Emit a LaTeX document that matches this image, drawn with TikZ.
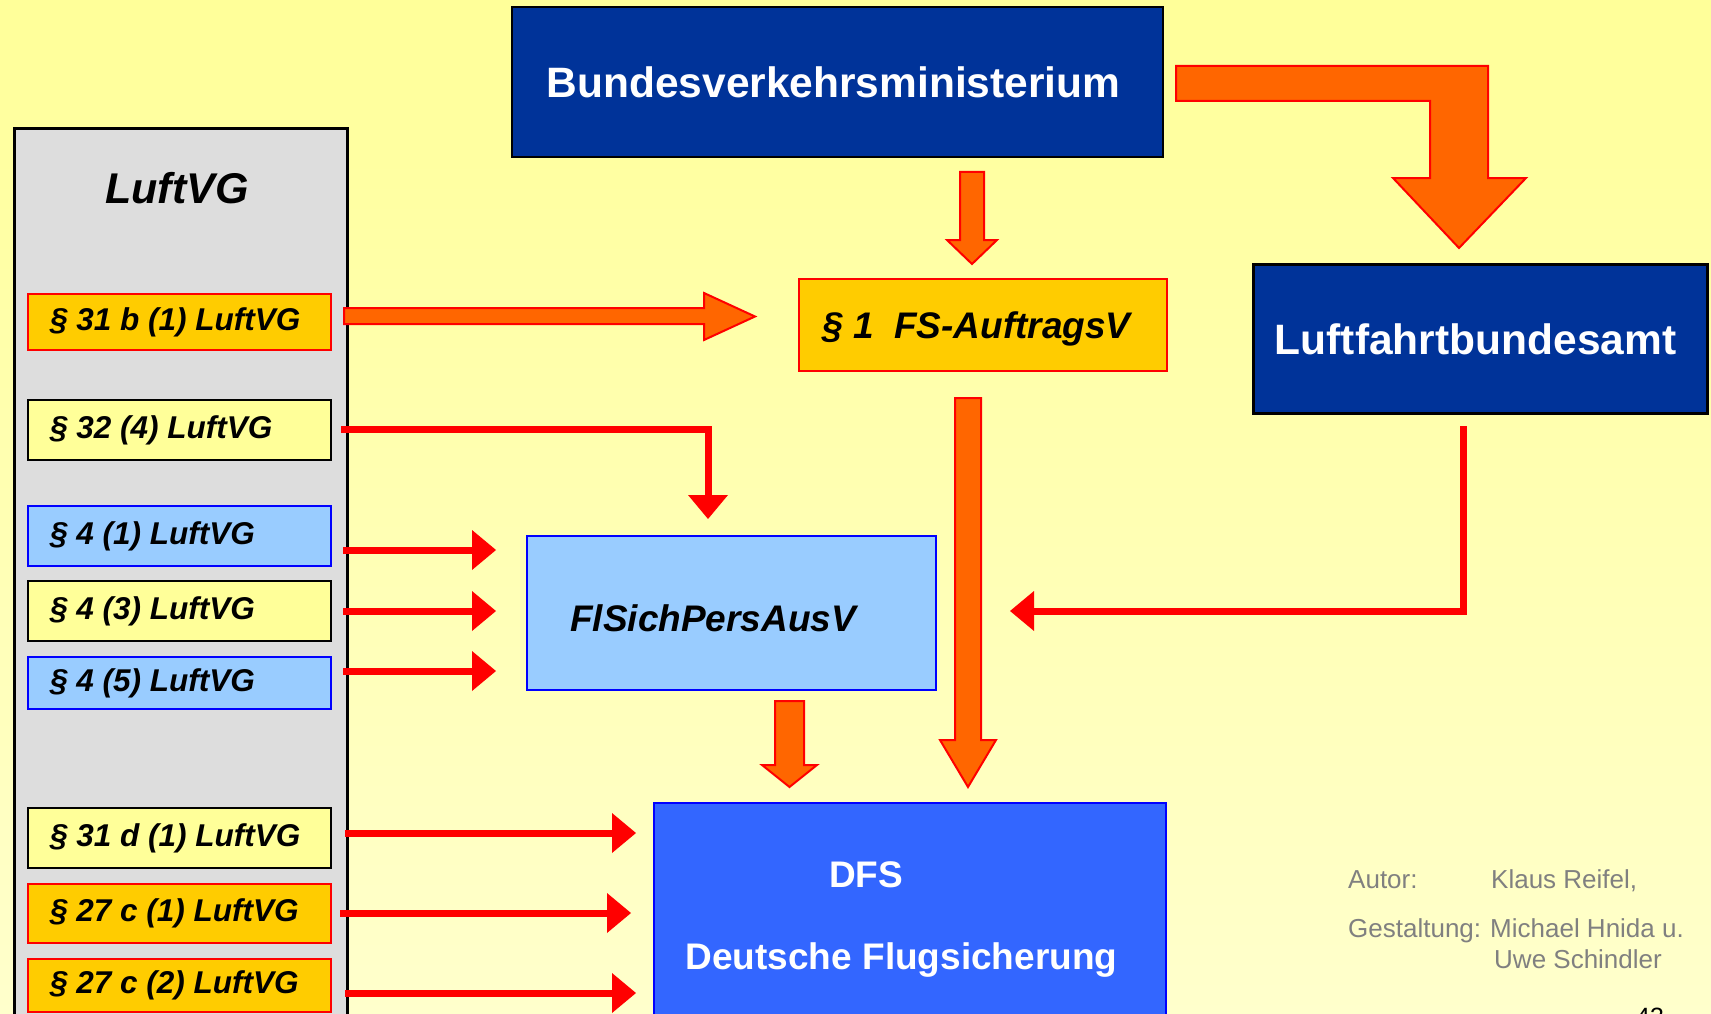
\documentclass[tikz,border=0pt]{standalone}
\usepackage{fontspec}
\setmainfont{Liberation Sans}
\usetikzlibrary{arrows.meta}
\definecolor{bgtop}{RGB}{255,255,153}
\definecolor{bgbot}{RGB}{255,255,204}
\definecolor{navy}{HTML}{003399}
\definecolor{gold}{HTML}{FFCC00}
\definecolor{lyellow}{HTML}{FFFF99}
\definecolor{lblue}{HTML}{99CCFF}
\definecolor{dfsblue}{HTML}{3366FF}
\definecolor{orng}{HTML}{FF6600}
\definecolor{redline}{HTML}{FF0000}
\definecolor{blueline}{HTML}{0000FF}
\definecolor{graybox}{HTML}{DDDDDD}
\definecolor{authgray}{RGB}{128,128,128}
\newcommand\fsz[1]{\fontsize{#1pt}{#1pt}\selectfont}
\newcommand\downblock[6]{% center x, top, head start, tip, shaft half, head half
  \filldraw[blockarr] (#1-#5,#2) -- (#1+#5,#2) -- (#1+#5,#3) -- (#1+#6,#3) -- (#1,#4) -- (#1-#6,#3) -- (#1-#5,#3) -- cycle;}
\newcommand\lawbox[5]{% name, style, top, height, text
  \node[#2, minimum height=#4pt] (#1) at (27,#3) {};
  \node[lawtxt] (#1t) at ([xshift=23pt]#1.west) {#5};}
\begin{document}
\begin{tikzpicture}[x=1pt,y=-1pt,
  lawframe/.style={draw, line width=2pt, anchor=north west, minimum width=303pt, inner sep=0pt},
  lawtxt/.style={anchor=west, inner sep=0pt, font=\fsz{31.5}\bfseries\itshape},
  goldbox/.style={lawframe, fill=gold, draw=redline},
  lybox/.style={lawframe, fill=lyellow, draw=black},
  lbbox/.style={lawframe, fill=lblue, draw=blueline},
  mainbox/.style={anchor=north west, inner sep=0pt},
  whitetxt/.style={text=white, font=\fsz{42.5}\bfseries, inner sep=0pt},
  thinarr/.style={draw=redline, line width=7pt, line join=miter,
    -{Triangle[length=24pt,width=40pt,line width=0pt]}},
  blockarr/.style={fill=orng, draw=redline, line width=2pt, line join=miter},
  authtxt/.style={text=authgray, font=\fsz{26}, anchor=base west, inner sep=0pt}]
\useasboundingbox (0,0) rectangle (1711,1014);
\shade[top color=bgtop, bottom color=bgbot] (0,0) rectangle (1711,1014);

% left legal column
\node[draw=black, line width=3pt, fill=graybox, mainbox, minimum width=333pt, minimum height=920pt] (lvg) at (12.5,127.5) {};
\node[font=\fsz{43}\bfseries\itshape, anchor=base, inner sep=0pt] (ttl) at (177,204) {LuftVG};
\lawbox{b31b}{goldbox}{293}{56}{§ 31 b (1) LuftVG}
\lawbox{b32}{lybox}{399}{60}{§ 32 (4) LuftVG}
\lawbox{b41}{lbbox}{505}{60}{§ 4 (1) LuftVG}
\lawbox{b43}{lybox}{580}{60}{§ 4 (3) LuftVG}
\lawbox{b45}{lbbox}{656}{52}{§ 4 (5) LuftVG}
\lawbox{b31d}{lybox}{807}{60}{§ 31 d (1) LuftVG}
\lawbox{b27ca}{goldbox}{883}{59}{§ 27 c (1) LuftVG}
\lawbox{b27cb}{goldbox}{958}{53}{§ 27 c (2) LuftVG}

% main boxes
\node[mainbox, fill=navy, draw=black, line width=2pt, minimum width=651pt, minimum height=150pt] (bvm) at (511,6) {};
\node[whitetxt] at ([xshift=-4pt]bvm.center) {Bundesverkehrsministerium};
\node[mainbox, fill=navy, draw=black, line width=3pt, minimum width=454pt, minimum height=149pt] (lba) at (1252,263) {};
\node[whitetxt] at ([xshift=-5pt]lba.center) {Luftfahrtbundesamt};
\node[mainbox, fill=gold, draw=redline, line width=2pt, minimum width=368pt, minimum height=92pt] (fs) at (798,278) {};
\node[anchor=base west, inner sep=0pt, font=\fsz{37}\bfseries\itshape] (fst) at (822,338) {§ 1~~FS-AuftragsV};
\node[mainbox, fill=lblue, draw=blueline, line width=2pt, minimum width=409pt, minimum height=154pt] (fl) at (526,535) {};
\node[anchor=base west, inner sep=0pt, font=\fsz{37}\bfseries\itshape] (flt) at (570,631) {FlSichPersAusV};
\node[mainbox, fill=dfsblue, draw=blueline, line width=2pt, minimum width=512pt, minimum height=240pt] (dfs) at (653,802) {};
\node[anchor=base, inner sep=0pt, text=white, font=\fsz{37}\bfseries] (dfst1) at (866,887) {DFS};
\node[anchor=base, inner sep=0pt, text=white, font=\fsz{37}\bfseries] (dfst2) at (901.5,969) {Deutsche Flugsicherung};

% block arrows
\filldraw[blockarr] (1176,66) -- (1488,66) -- (1488,178) -- (1526,178) -- (1459,248) -- (1393,178) -- (1430,178) -- (1430,101) -- (1176,101) -- cycle;
\downblock{972}{172}{240}{264}{12}{25}
\filldraw[blockarr] (344,308) -- (704,308) -- (704,293) -- (755,316.5) -- (704,340) -- (704,324) -- (344,324) -- cycle;
\downblock{968}{398}{740}{787}{13}{28}
\downblock{789.5}{701}{765}{787}{14.5}{27.5}

% thin red arrows
\coordinate (c32a) at (341,429);
\coordinate (c32b) at (708,429);
\coordinate (c32c) at (708,519);
\draw[thinarr] (c32a) -- (c32b) -- (c32c);
\draw[thinarr] (343,550) -- (496,550);
\draw[thinarr] (343,611) -- (496,611);
\draw[thinarr] (343,671) -- (496,671);
\draw[thinarr] (1463,426) -- (1463,611) -- (1010,611);
\draw[thinarr] (345,833) -- (636,833);
\draw[thinarr] (340,913) -- (631,913);
\draw[thinarr] (345,993) -- (636,993);

% credits
\node[authtxt] (a1) at (1348,888) {Autor:};
\node[authtxt] (a2) at (1491,888) {Klaus Reifel,};
\node[authtxt] (a3) at (1348,937) {Gestaltung:};
\node[authtxt] (a4) at (1490,937) {Michael Hnida u.};
\node[authtxt] (a5) at (1494,968) {Uwe Schindler};
\node[anchor=base west, inner sep=0pt, font=\fsz{25}] (pg) at (1636,1025) {43};
\end{tikzpicture}
\end{document}
